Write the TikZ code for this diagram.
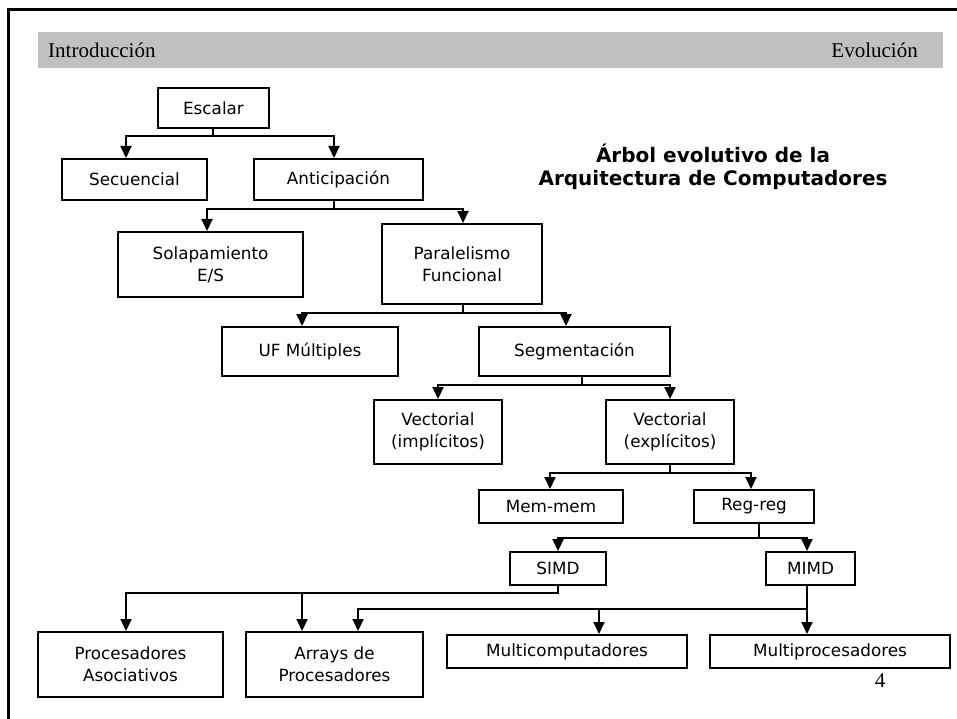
\documentclass[tikz,border=0pt]{standalone}
\usepackage{fontspec}
\setmainfont{Liberation Serif}
\newfontfamily\boxfont{DejaVu Sans}
\usetikzlibrary{arrows.meta}
\definecolor{bandgray}{RGB}{192,192,192}
\begin{document}
\begin{tikzpicture}[x=1pt,y=-1pt,
  caja/.style={draw, line width=2pt, inner sep=0pt, align=center,
    font=\boxfont\fontsize{16.8}{22}\selectfont},
  conn/.style={line width=2pt, -{Triangle[width=11pt,length=12pt]}},
  headtxt/.style={inner sep=0pt, font=\fontsize{21}{24}\selectfont},
  titletxt/.style={inner sep=0pt, font=\boxfont\bfseries\fontsize{20}{23}\selectfont}]
\useasboundingbox (0,0) rectangle (957,719);
% frame and header band
\fill[white] (0,0) rectangle (957,719);
\draw[line width=2.6pt] (8.7,719) -- (8.7,9.8) -- (957,9.8);
\fill[bandgray] (38,32) rectangle (943,68);
\node[headtxt, anchor=base west] (intro) at (48,58) {Introducción};
\node[headtxt, anchor=base east] (evol) at (918,58) {Evolución};
\node[headtxt, anchor=base] (pagenum) at (880,687) {4};
% title
\node[titletxt, anchor=base] (title1) at (713,163) {Árbol evolutivo de la};
\node[titletxt, anchor=base] (title2) at (713,186) {Arquitectura de Computadores};
% boxes
\node[caja, minimum width=111pt, minimum height=40pt] (escalar) at (213.5,108) {Escalar};
\node[caja, minimum width=145pt, minimum height=41pt] (secuencial) at (134.5,179.5) {Secuencial};
\node[caja, minimum width=169pt, minimum height=41pt] (anticipacion) at (338.5,179.5) {Anticipación};
\node[caja, minimum width=185pt, minimum height=65pt] (solapamiento) at (210.5,264.5) {Solapamiento\\E/S};
\node[caja, minimum width=160pt, minimum height=80pt] (paralelismo) at (462,264) {Paralelismo\\Funcional};
\node[caja, minimum width=176pt, minimum height=49pt] (ufmult) at (310,351.5) {UF Múltiples};
\node[caja, minimum width=191pt, minimum height=49pt] (segmentacion) at (574.5,351.5) {Segmentación};
\node[caja, minimum width=128pt, minimum height=64pt] (implicitos) at (438,432) {Vectorial\\(implícitos)};
\node[caja, minimum width=128pt, minimum height=64pt] (explicitos) at (670,432) {Vectorial\\(explícitos)};
\node[caja, minimum width=144pt, minimum height=33pt] (memmem) at (551,506.5) {Mem-mem};
\node[caja, minimum width=120pt, minimum height=33pt] (regreg) at (754,506.5) {Reg-reg};
\node[caja, minimum width=96pt, minimum height=33pt] (simd) at (558,568.5) {SIMD};
\node[caja, minimum width=89pt, minimum height=33pt] (mimd) at (810.5,568.5) {MIMD};
\node[caja, minimum width=185pt, minimum height=65pt] (procasoc) at (130.5,664.5) {Procesadores\\Asociativos};
\node[caja, minimum width=177pt, minimum height=65pt] (arrays) at (334.5,664.5) {Arrays de\\Procesadores};
\node[caja, minimum width=240pt, minimum height=33pt] (multicomp) at (567,651.5) {Multicomputadores};
\node[caja, minimum width=240pt, minimum height=33pt] (multiproc) at (830,651.5) {Multiprocesadores};
% connectors
\draw[conn] ([xshift=-0.5pt]escalar.south) -- ++(0,7) -| ([xshift=-8.5pt]secuencial.north);
\draw[conn] ([xshift=-0.5pt]escalar.south) -- ++(0,7) -| ([xshift=-4.5pt]anticipacion.north);
\draw[conn] ([xshift=-4.5pt]anticipacion.south) -- ++(0,8) -| ([xshift=-3.5pt]solapamiento.north);
\draw[conn] ([xshift=-4.5pt]anticipacion.south) -- ++(0,8) -| ([xshift=1pt]paralelismo.north);
\draw[conn] ([xshift=1pt]paralelismo.south) -- ++(0,8) -| ([xshift=-8pt]ufmult.north);
\draw[conn] ([xshift=1pt]paralelismo.south) -- ++(0,8) -| ([xshift=-8.5pt]segmentacion.north);
\draw[conn] ([xshift=7.5pt]segmentacion.south) -- ++(0,8) -| (implicitos.north);
\draw[conn] ([xshift=7.5pt]segmentacion.south) -- ++(0,8) -| (explicitos.north);
\draw[conn] (explicitos.south) -- ++(0,8) -| ([xshift=-1pt]memmem.north);
\draw[conn] (explicitos.south) -- ++(0,8) -| ([xshift=-3pt]regreg.north);
\draw[conn] ([xshift=5pt]regreg.south) -- ++(0,14) -| (simd.north);
\draw[conn] ([xshift=5pt]regreg.south) -- ++(0,14) -| ([xshift=-3.5pt]mimd.north);
\draw[conn] (simd.south) -- ++(0,7) -| ([xshift=-4.5pt]procasoc.north);
\draw[conn] (simd.south) -- ++(0,7) -| ([xshift=-32.5pt]arrays.north);
\draw[conn] ([xshift=-3.5pt]mimd.south) -- ([xshift=-23pt]multiproc.north);
\draw[conn] ([xshift=-3.5pt]mimd.south) -- ++(0,23) -| ([xshift=23.5pt]arrays.north);
\draw[conn] ([xshift=-3.5pt]mimd.south) -- ++(0,23) -| ([xshift=32pt]multicomp.north);
\end{tikzpicture}
\end{document}
